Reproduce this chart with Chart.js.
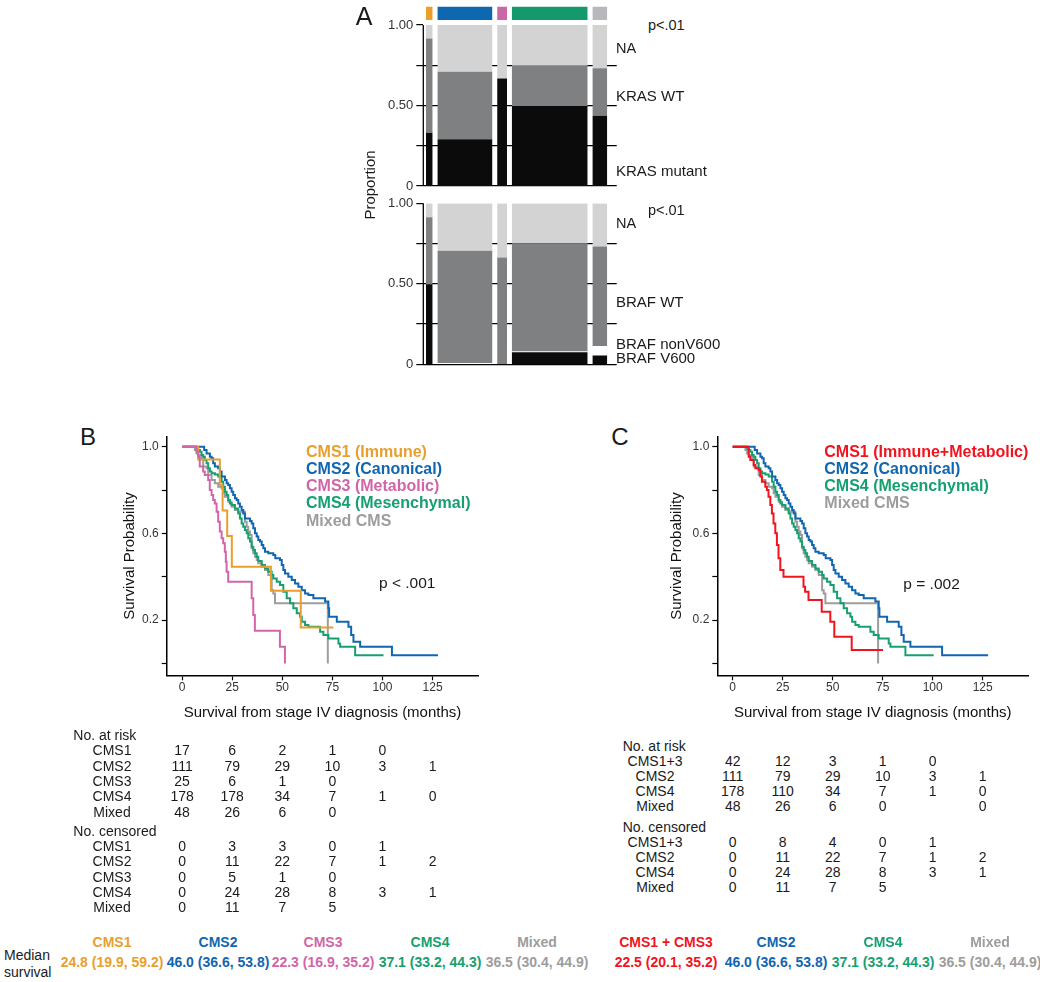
<!DOCTYPE html>
<html>
<head>
<meta charset="utf-8">
<script src="https://cdn.jsdelivr.net/npm/chart.js@4.4.1/dist/chart.umd.min.js"></script>
<style>
  body { margin: 0; background: #fff; font-family: "Liberation Sans", Arial, sans-serif; }
  #stage { position: relative; width: 1040px; height: 982px; overflow: hidden; }
  canvas { position: absolute; }
</style>
</head>
<body>
<div id="stage">
  <canvas id="kras" width="270" height="200" style="left:360px;top:0px"></canvas>
  <canvas id="braf" width="270" height="185" style="left:360px;top:195px"></canvas>
  <canvas id="kmB" width="390" height="310" style="left:100px;top:420px"></canvas>
  <canvas id="kmC" width="390" height="310" style="left:650px;top:420px"></canvas>
</div>
<script>
// ---- Panel A data (mosaic) ----
const groups = ["CMS1", "CMS2", "CMS3", "CMS4", "Mixed"];
const groupColors = ["#e9a02a", "#0d68b0", "#c967a8", "#14986c", "#b8b8bc"];
const colWidths = [13.5, 111, 20, 153, 30]; // relative column widths (sample size)
const krasMutant = [0.331, 0.29, 0.667, 0.497, 0.437];
const krasWT = [0.586, 0.42, 0, 0.25, 0.294];
const brafV600 = [0.497, 0, 0, 0.075, 0.054];
const brafNonV600 = [0, 0.008, 0, 0.005, 0.06];
const brafWT = [0.416, 0.698, 0.663, 0.672, 0.617];
const mosaicTicks = [0, 0.25, 0.5, 0.75, 1];

// ---- Panel B / C data (Kaplan-Meier, [months, survival]) ----
const kmCMS1 = [[0,1],[8,0.941],[18.8,0.824],[20.2,0.706],[22.5,0.588],[24.8,0.446],[44.3,0.335],[59.2,0.166],[75.5,0.166]];
const kmCMS2 = [[0,1],[11,0.985],[12.2,0.969],[13.85,0.954],[14.7,0.946],[15.5,0.923],[16.35,0.908],[18,0.9],[18.85,0.885],[19.7,0.862],[21.35,0.846],[22.2,0.831],[23,0.823],[23.85,0.808],[24.7,0.792],[25.5,0.777],[26.35,0.762],[27.2,0.754],[28,0.738],[28.85,0.723],[29.7,0.708],[30.5,0.692],[31.35,0.669],[33.85,0.657],[34.7,0.646],[35.5,0.623],[36.35,0.6],[37.2,0.585],[38,0.569],[38.85,0.562],[39.7,0.546],[40.5,0.531],[41.35,0.515],[43,0.508],[45.5,0.5],[46.5,0.485],[48.85,0.477],[49.7,0.454],[50.5,0.431],[51.35,0.415],[53,0.4],[54.7,0.385],[56.35,0.369],[58,0.354],[59.7,0.338],[61.35,0.323],[63,0.315],[65.5,0.3],[71.35,0.285],[73,0.254],[73.35,0.215],[77.2,0.192],[83,0.169],[84.35,0.131],[85.5,0.1],[88.85,0.077],[104.7,0.038],[127.7,0.038]];
const kmCMS3 = [[0,1],[7.2,0.977],[8,0.954],[8.8,0.908],[10.5,0.885],[11.3,0.869],[13,0.846],[13.8,0.8],[14.7,0.777],[15.5,0.754],[16.3,0.738],[17.2,0.7],[18,0.654],[18.8,0.608],[19.7,0.577],[20.5,0.554],[21.3,0.515],[21.8,0.469],[22.2,0.423],[23,0.377],[34.7,0.3],[35.5,0.223],[36.3,0.151],[48.8,0.077],[51.3,0]];
const kmCMS4 = [[0,1],[7.2,0.992],[8,0.985],[8.85,0.977],[9.7,0.962],[10.5,0.954],[11.35,0.938],[12.2,0.923],[13,0.9],[13.85,0.885],[14.7,0.877],[16.35,0.872],[18,0.862],[19.7,0.838],[20.5,0.815],[21.35,0.792],[22.2,0.777],[23,0.754],[23.85,0.738],[24.7,0.731],[26.35,0.715],[28,0.692],[28.85,0.669],[29.7,0.646],[30.5,0.631],[31.35,0.615],[32.2,0.6],[33,0.577],[33.85,0.562],[34.7,0.538],[35.5,0.523],[36.35,0.508],[37.2,0.492],[38,0.472],[39.7,0.454],[41.35,0.438],[43,0.423],[44.7,0.408],[45.5,0.392],[47.2,0.377],[48.85,0.362],[50.5,0.331],[52.2,0.3],[53.85,0.277],[55.5,0.254],[57.2,0.231],[58.85,0.215],[59.7,0.192],[61.35,0.177],[63,0.169],[68.85,0.146],[70.5,0.131],[73,0.115],[78,0.092],[78.85,0.077],[86.35,0.038],[100.5,0.038]];
const kmMixed = [[0,1],[6.35,0.985],[7.2,0.969],[8,0.962],[9.7,0.946],[10.5,0.908],[12.2,0.9],[13,0.869],[14.7,0.846],[16.35,0.831],[18,0.815],[19.7,0.808],[20.5,0.785],[21.35,0.769],[23,0.746],[24.7,0.723],[26.35,0.708],[28,0.7],[31.35,0.654],[32.2,0.631],[33,0.608],[33.85,0.592],[34.7,0.531],[35.5,0.508],[36.35,0.492],[37.2,0.477],[38,0.462],[39.7,0.446],[41.35,0.431],[43,0.408],[44.7,0.338],[45.5,0.323],[46.35,0.277],[72.7,0]];
const kmCMS13 = [[0,1],[8,0.954],[8.8,0.938],[10.5,0.915],[11.3,0.9],[13,0.892],[13.8,0.862],[14.6,0.838],[16.3,0.815],[17.1,0.8],[17.9,0.769],[18.8,0.731],[19.6,0.692],[20.4,0.646],[21.3,0.6],[22.1,0.546],[22.9,0.485],[23.8,0.431],[25.4,0.4],[35.4,0.354],[36.2,0.331],[37.9,0.292],[44.5,0.238],[48.8,0.192],[50.8,0.123],[59.5,0.062],[75.2,0.062]];
const kmXTicks = [0, 25, 50, 75, 100, 125];
const kmYTicks = [0, 0.2, 0.4, 0.6, 0.8, 1];
const kmYLabels = ["", "0.2", "", "0.6", "", "1.0"];

// ---- tables ----
const riskLabelsB = ["CMS1", "CMS2", "CMS3", "CMS4", "Mixed"];
const atRiskB = [[17,6,2,1,0,""],[111,79,29,10,3,1],[25,6,1,0,"",""],[178,178,34,7,1,0],[48,26,6,0,"",""]];
const censoredB = [[0,3,3,0,1,""],[0,11,22,7,1,2],[0,5,1,0,"",""],[0,24,28,8,3,1],[0,11,7,5,"",""]];
const riskLabelsC = ["CMS1+3", "CMS2", "CMS4", "Mixed"];
const atRiskC = [[42,12,3,1,0,""],[111,79,29,10,3,1],[178,110,34,7,1,0],[48,26,6,0,"",0]];
const censoredC = [[0,8,4,0,1,""],[0,11,22,7,1,2],[0,24,28,8,3,1],[0,11,7,5,"",""]];

// ---- median survival ----
const medGroupsB = ["CMS1", "CMS2", "CMS3", "CMS4", "Mixed"];
const medianB = [24.8, 46.0, 22.3, 37.1, 36.5];
const lowerB = [19.9, 36.6, 16.9, 33.2, 30.4];
const upperB = [59.2, 53.8, 35.2, 44.3, 44.9];
const medGroupsC = ["CMS1 + CMS3", "CMS2", "CMS4", "Mixed"];
const medianC = [22.5, 46.0, 37.1, 36.5];
const lowerC = [20.1, 36.6, 33.2, 30.4];
const upperC = [35.2, 53.8, 44.3, 44.9];

const C = { cms1: "#e89f2e", cms2: "#1166b0", cms3: "#d066a8", cms4: "#16a06f", mixed: "#9d9d9d", cms13: "#f0141e" };
const BLACK = "#0b0b0b", DARK = "#7f8081", LIGHT = "#d3d3d3";

const stage = document.getElementById("stage");
function addText(str, x, y, o = {}) {
  const d = document.createElement("div");
  d.textContent = str;
  const tx = o.align === "center" ? "-50%" : o.align === "right" ? "-100%" : "0";
  d.style.cssText = `position:absolute;left:${x}px;top:${y}px;font-size:${o.size || 14}px;` +
    `font-weight:${o.bold ? "bold" : "normal"};color:${o.color || "#1a1a1a"};white-space:nowrap;line-height:1;` +
    `transform:translate(${tx},-50%)${o.rotate ? " rotate(-90deg)" : ""};`;
  stage.appendChild(d);
}

// ---- Panel A ----
const LEFT_OFF = 5.4, GAP = 9.4, RIGHT_OFF = 19;
const xTotal = LEFT_OFF + colWidths.reduce((a, b) => a + b, 0) + GAP * (colWidths.length - 1) + RIGHT_OFF;

function rect(x0, x1, y0, y1, color) {
  return { data: [{ x: x0, y: y1 }, { x: x1, y: y1 }], fill: { value: y0 }, backgroundColor: color,
           borderColor: "transparent", borderWidth: 0, pointRadius: 0 };
}

function mosaicDatasets(layers, strip) {
  const ds = [];
  let x = LEFT_OFF;
  colWidths.forEach((w, i) => {
    let base = 0;
    layers.forEach(l => {
      const v = l.values[i];
      if (v > 0) ds.push(rect(x, x + w, base, base + v, l.color));
      base += v;
    });
    ds.push(rect(x, x + w, base, 1, LIGHT)); // NA
    if (strip) ds.push(rect(x, x + w, 1.031, 1.114, groupColors[i]));
    x += w + GAP;
  });
  return ds;
}

const axisLine = {
  id: "axisLine",
  afterDatasetsDraw(chart) {
    const { ctx, chartArea, scales: { y } } = chart;
    ctx.save();
    ctx.strokeStyle = "#000";
    ctx.lineWidth = 1.3;
    ctx.beginPath();
    ctx.moveTo(chartArea.left, y.getPixelForValue(1));
    ctx.lineTo(chartArea.left, y.getPixelForValue(0));
    ctx.stroke();
    ctx.restore();
  }
};

function mosaicChart(id, layers, strip, yMax, pad) {
  new Chart(document.getElementById(id), {
    type: "line",
    data: { datasets: mosaicDatasets(layers, strip) },
    plugins: [axisLine],
    options: {
      responsive: false,
      animation: false,
      layout: { padding: pad },
      plugins: { legend: { display: false }, tooltip: { enabled: false } },
      scales: {
        x: { type: "linear", display: false, min: 0, max: xTotal },
        y: {
          min: 0, max: yMax,
          afterBuildTicks: s => { s.ticks = mosaicTicks.map(v => ({ value: v })); },
          afterFit: s => { s.width = 63.3; s.paddingTop = 0; s.paddingBottom = 0; },
          ticks: {
            font: { size: 13, family: "Liberation Sans" }, color: "#333", padding: 3,
            callback: v => (v === 1 ? "1.00" : v === 0.5 ? "0.50" : v === 0 ? "0" : "")
          },
          border: { display: false },
          grid: {
            color: c => (c.tick && c.tick.value === 1 ? "rgba(0,0,0,0)" : "#000"),
            tickColor: "#000", lineWidth: 1.2, tickWidth: 1.2, tickLength: 7
          }
        }
      }
    }
  });
}

mosaicChart("kras", [{ values: krasMutant, color: BLACK }, { values: krasWT, color: DARK }], true, 1.12,
  { left: 0, right: 13.3, top: 5.7, bottom: 14 });
mosaicChart("braf", [{ values: brafV600, color: BLACK }, { values: brafNonV600, color: "#ffffff" }, { values: brafWT, color: DARK }], false, 1,
  { left: 0, right: 13.3, top: 8.3, bottom: 15.7 });

addText("A", 364, 16, { size: 25, align: "center" });
addText("Proportion", 369, 185, { size: 15, align: "center", rotate: true });
addText("p<.01", 648, 25, { size: 14.5 });
addText("NA", 616, 47.5, { size: 14.5 });
addText("KRAS WT", 616, 95, { size: 15 });
addText("KRAS mutant", 616, 170, { size: 15 });
addText("p<.01", 648, 210, { size: 14.5 });
addText("NA", 616, 223, { size: 14.5 });
addText("BRAF WT", 616, 301, { size: 15 });
addText("BRAF nonV600", 616, 343, { size: 15 });
addText("BRAF V600", 616, 356.5, { size: 15 });

// ---- Panels B and C ----
function kmSet(arr, color, order) {
  return { data: arr.map(([t, s]) => ({ x: t, y: s })), borderColor: color, borderWidth: 2,
           stepped: true, pointRadius: 0, fill: false, tension: 0, order: order };
}

function kmChart(id, datasets, yAxisWidth, titlePad) {
  return new Chart(document.getElementById(id), {
    type: "line",
    data: { datasets },
    options: {
      responsive: false,
      animation: false,
      layout: { padding: { left: 0, right: 11.7, top: 16.7, bottom: 0 } },
      plugins: { legend: { display: false }, tooltip: { enabled: false } },
      scales: {
        x: {
          type: "linear", min: -7.7, max: 147.8,
          afterBuildTicks: s => { s.ticks = kmXTicks.map(v => ({ value: v })); },
          afterFit: s => { s.height = 54.7; s.paddingLeft = 0; s.paddingRight = 0; },
          ticks: { font: { size: 12, family: "Liberation Sans" }, color: "#333", padding: 0, autoSkip: false, maxRotation: 0 },
          grid: { drawOnChartArea: false, tickLength: 5, tickColor: "#000", tickWidth: 1.2 },
          border: { color: "#000", width: 1.5 },
          title: { display: true, text: "Survival from stage IV diagnosis (months)", color: "#111",
                   font: { size: 15, family: "Liberation Sans" }, padding: { top: 0, bottom: 8 } }
        },
        y: {
          min: -0.055, max: 1.046,
          afterBuildTicks: s => { s.ticks = kmYTicks.map(v => ({ value: v })); },
          afterFit: s => { s.width = yAxisWidth; s.paddingTop = 0; s.paddingBottom = 0; },
          ticks: { font: { size: 12, family: "Liberation Sans" }, color: "#333", padding: 3,
                   callback: (v, i) => kmYLabels[i] },
          grid: { drawOnChartArea: false, tickLength: 5, tickColor: "#000", tickWidth: 1.2 },
          border: { color: "#000", width: 1.5 },
          title: { display: true, text: "Survival Probability", color: "#111",
                   font: { size: 15, family: "Liberation Sans" }, padding: { top: titlePad, bottom: 0 } }
        }
      }
    }
  });
}

const chartB = kmChart("kmB", [
  kmSet(kmCMS3, C.cms3, 0),
  kmSet(kmCMS1, C.cms1, 1),
  kmSet(kmCMS2, C.cms2, 2),
  kmSet(kmCMS4, C.cms4, 3),
  kmSet(kmMixed, C.mixed, 4)
], 66.7, 21);

const chartC = kmChart("kmC", [
  kmSet(kmCMS13, C.cms13, 0),
  kmSet(kmCMS2, C.cms2, 1),
  kmSet(kmCMS4, C.cms4, 2),
  kmSet(kmMixed, C.mixed, 3)
], 67.3, 18.3);

addText("B", 88, 437, { size: 24, align: "center" });
addText("C", 620, 437, { size: 24, align: "center" });

const legendB = [["CMS1 (Immune)", C.cms1], ["CMS2 (Canonical)", C.cms2], ["CMS3 (Metabolic)", C.cms3],
                 ["CMS4 (Mesenchymal)", C.cms4], ["Mixed CMS", C.mixed]];
legendB.forEach(([t, c], i) => addText(t, 306, 451.7 + i * 17.25, { size: 16, bold: true, color: c }));
const legendC = [["CMS1 (Immune+Metabolic)", C.cms13], ["CMS2 (Canonical)", C.cms2],
                 ["CMS4 (Mesenchymal)", C.cms4], ["Mixed CMS", C.mixed]];
legendC.forEach(([t, c], i) => addText(t, 824.3, 451.7 + i * 17.25, { size: 16, bold: true, color: c }));
addText("p < .001", 379, 583.3, { size: 15.5 });
addText("p = .002", 903.3, 584, { size: 15.5 });

// number-at-risk tables, columns aligned to the x scale
function table(chart, canvasLeft, headX, labelX, labels, risk, cens, y0, step, y1, step2) {
  const xs = kmXTicks.map(t => canvasLeft + chart.scales.x.getPixelForValue(t));
  addText("No. at risk", headX, y0, { size: 14 });
  labels.forEach((l, r) => {
    addText(l, labelX, y0 + step * (r + 1), { size: 14, align: "center" });
    risk[r].forEach((v, k) => { if (v !== "") addText(String(v), xs[k], y0 + step * (r + 1), { size: 14, align: "center" }); });
  });
  addText("No. censored", headX, y1, { size: 14 });
  labels.forEach((l, r) => {
    addText(l, labelX, y1 + step2 * (r + 1), { size: 14, align: "center" });
    cens[r].forEach((v, k) => { if (v !== "") addText(String(v), xs[k], y1 + step2 * (r + 1), { size: 14, align: "center" }); });
  });
}
table(chartB, 100, 73.3, 112, riskLabelsB, atRiskB, censoredB, 735, 15.35, 830.7, 15.35);
table(chartC, 650, 622.7, 655, riskLabelsC, atRiskC, censoredC, 745.5, 15.1, 826.7, 15);

// median survival row
addText("Median", 4, 955, { size: 14 });
addText("survival", 4, 972, { size: 14 });
const medColorsB = [C.cms1, C.cms2, C.cms3, C.cms4, C.mixed];
const medXB = [112, 218, 323, 430, 537];
medGroupsB.forEach((g, i) => {
  addText(g, medXB[i], 942, { size: 14, bold: true, color: medColorsB[i], align: "center" });
  addText(`${medianB[i].toFixed(1)} (${lowerB[i].toFixed(1)}, ${upperB[i].toFixed(1)})`, medXB[i], 962,
          { size: 14, bold: true, color: medColorsB[i], align: "center" });
});
const medColorsC = [C.cms13, C.cms2, C.cms4, C.mixed];
const medXC = [666, 776, 883, 990];
medGroupsC.forEach((g, i) => {
  addText(g, medXC[i], 942, { size: 14, bold: true, color: medColorsC[i], align: "center" });
  addText(`${medianC[i].toFixed(1)} (${lowerC[i].toFixed(1)}, ${upperC[i].toFixed(1)})`, medXC[i], 962,
          { size: 14, bold: true, color: medColorsC[i], align: "center" });
});
</script>
</body>
</html>
